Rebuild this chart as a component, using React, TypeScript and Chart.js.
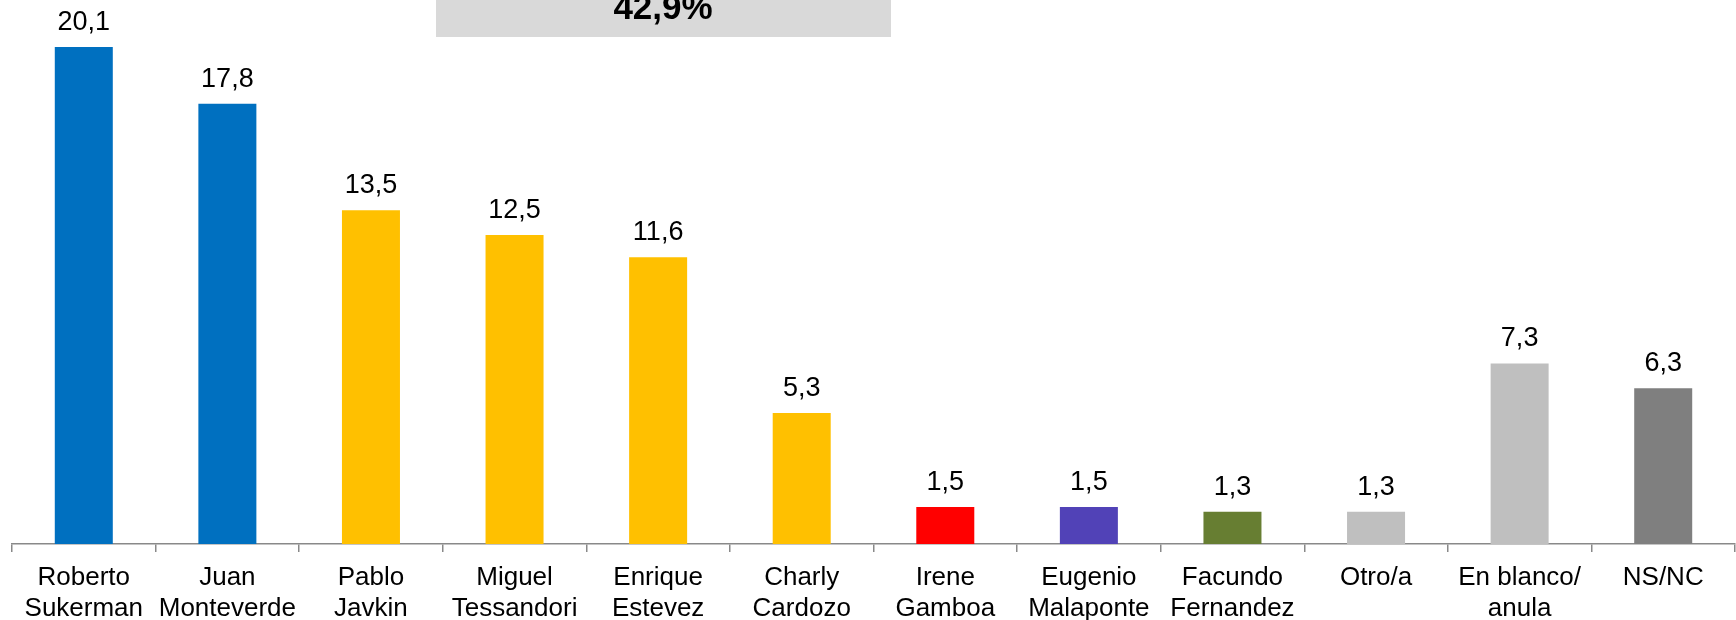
import React, { useEffect, useRef } from "react";
import { Chart, registerables } from "chart.js";

Chart.register(...registerables);

const categories: string[][] = [
  ["Roberto", "Sukerman"],
  ["Juan", "Monteverde"],
  ["Pablo", "Javkin"],
  ["Miguel", "Tessandori"],
  ["Enrique", "Estevez"],
  ["Charly", "Cardozo"],
  ["Irene", "Gamboa"],
  ["Eugenio", "Malaponte"],
  ["Facundo", "Fernandez"],
  ["Otro/a"],
  ["En blanco/", "anula"],
  ["NS/NC"],
];

const values: number[] = [20.1, 17.8, 13.5, 12.5, 11.6, 5.3, 1.5, 1.5, 1.3, 1.3, 7.3, 6.3];

const barColors: string[] = [
  "#0070C0",
  "#0070C0",
  "#FFC000",
  "#FFC000",
  "#FFC000",
  "#FFC000",
  "#FF0000",
  "#5142B7",
  "#677E32",
  "#BFBFBF",
  "#BFBFBF",
  "#7F7F7F",
];

// indexes of the bars summed in the grey box (yellow group)
const groupIndexes: number[] = [2, 3, 4, 5];

const FONT = "'Liberation Sans', Arial, Helvetica, sans-serif";

const fmt = (v: number) => v.toFixed(1).replace(".", ",");

const valueLabelPlugin = {
  id: "valueLabels",
  afterDatasetsDraw(chart: any) {
    const ctx = chart.ctx;
    const meta = chart.getDatasetMeta(0);
    ctx.save();
    ctx.font = `27px ${FONT}`;
    ctx.fillStyle = "#000000";
    ctx.textAlign = "center";
    ctx.textBaseline = "alphabetic";
    meta.data.forEach((el: any, i: number) => {
      ctx.fillText(fmt(values[i]), el.x, el.y - 17);
    });
    ctx.restore();
  },
};

const groupBoxPlugin = {
  id: "groupBox",
  afterDraw(chart: any) {
    const ctx = chart.ctx;
    const total = groupIndexes.reduce((s, i) => s + values[i], 0);
    ctx.save();
    ctx.fillStyle = "#D9D9D9";
    ctx.fillRect(436, 0, 455, 37);
    ctx.font = `bold 35px ${FONT}`;
    ctx.fillStyle = "#000000";
    ctx.textAlign = "center";
    ctx.textBaseline = "alphabetic";
    ctx.fillText(fmt(total) + "%", 663, 19);
    ctx.restore();
  },
};

export default function App() {
  const canvasRef = useRef<HTMLCanvasElement | null>(null);

  useEffect(() => {
    if (!canvasRef.current) return;
    const chart = new Chart(canvasRef.current, {
      type: "bar",
      data: {
        labels: categories,
        datasets: [
          {
            data: values,
            backgroundColor: barColors,
            borderWidth: 0,
            barPercentage: 0.404,
            categoryPercentage: 1,
          },
        ],
      },
      options: {
        responsive: false,
        animation: false,
        devicePixelRatio: 1,
        layout: { padding: { left: 12, right: 1, top: 0, bottom: 0 } },
        plugins: {
          legend: { display: false },
          tooltip: { enabled: false },
          title: { display: false },
        },
        scales: {
          x: {
            afterFit: (scale: any) => {
              scale.height = 76;
            },
            border: { display: true, color: "#898989", width: 1.5 },
            grid: {
              display: true,
              offset: true,
              drawOnChartArea: false,
              drawTicks: true,
              tickLength: 8,
              color: "#898989",
              lineWidth: 1.5,
            },
            ticks: {
              color: "#000000",
              padding: 10,
              maxRotation: 0,
              autoSkip: false,
              font: { family: FONT, size: 26, lineHeight: "31px" as any },
            },
          },
          y: {
            display: false,
            min: 0,
            max: 22,
          },
        },
      },
      plugins: [valueLabelPlugin, groupBoxPlugin],
    });
    return () => chart.destroy();
  }, []);

  return (
    <div style={{ position: "fixed", left: 0, top: 0, width: 1736, height: 620, background: "#ffffff" }}>
      <canvas ref={canvasRef} width={1736} height={620} style={{ display: "block" }} />
    </div>
  );
}
